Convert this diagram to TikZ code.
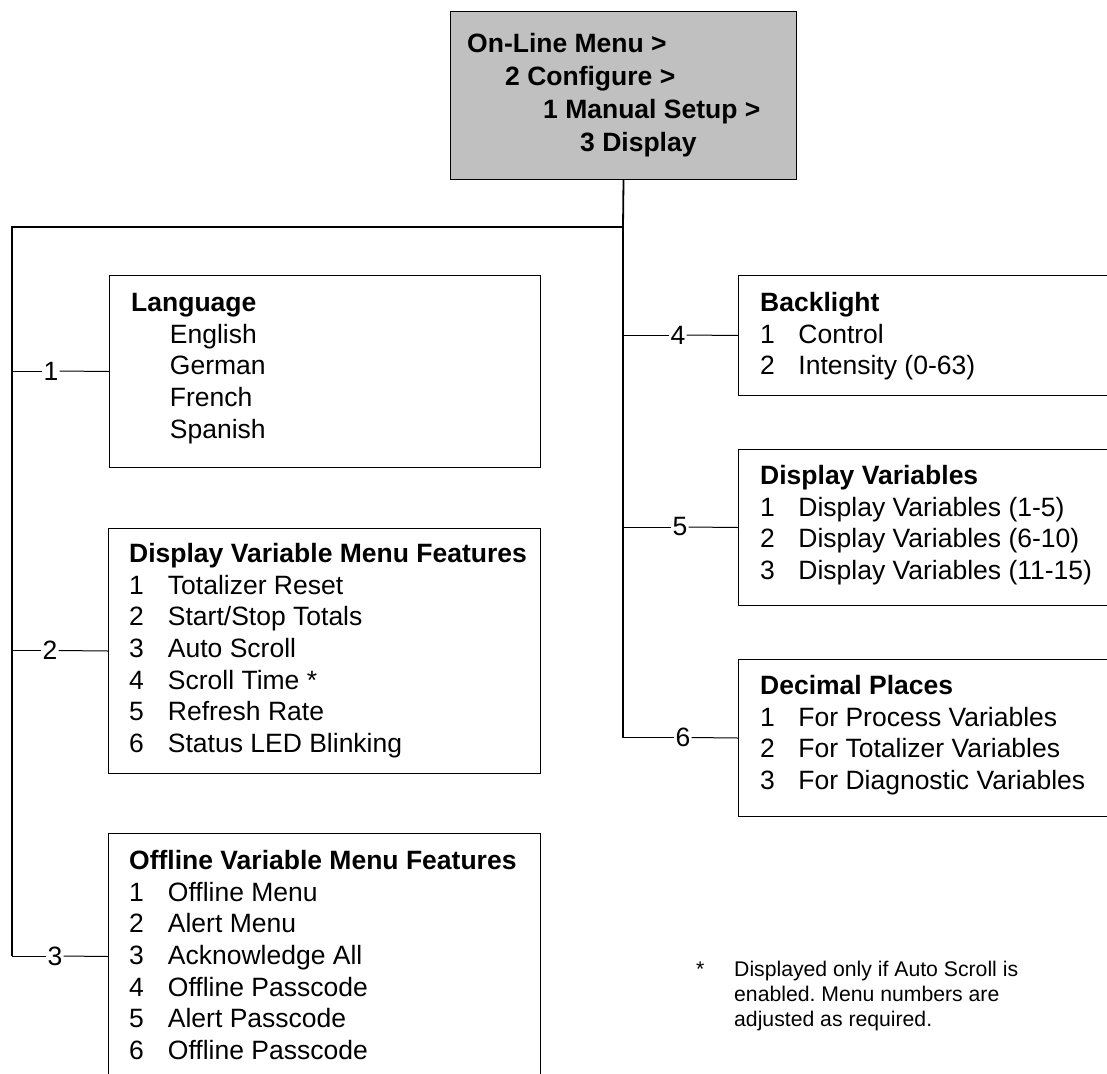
\documentclass[tikz,border=0pt]{standalone}
\usepackage{fontspec}
\setmainfont{Liberation Sans}
\definecolor{boxgray}{HTML}{C0C0C0}
\begin{document}
\begin{tikzpicture}[x=1pt,y=-1pt,
  bus/.style={line width=1.8pt},
  branch/.style={line width=1pt},
  menubox/.style={draw, line width=1pt, rectangle, inner sep=0pt, anchor=north west},
  content/.style={inner sep=0pt, anchor=north west, font=\fontsize{26.5}{31.7}\selectfont},
  numlabel/.style={inner sep=1pt, font=\fontsize{26.5}{31.7}\selectfont}
]
\useasboundingbox (0,0) rectangle (1107,1073);
\clip (0,0) rectangle (1107,1073);

% top box
\node[menubox, fill=boxgray, minimum width=346pt, minimum height=168pt] (top) at (450,11) {};
\node[content, font={\fontsize{26.5}{33}\selectfont\bfseries}] (toptext) at (467,29.5) {\begin{tabular}{@{}l@{}}
On-Line Menu >\\
\hspace*{38pt}2 Configure >\\
\hspace*{76pt}1 Manual Setup >\\
\hspace*{113pt}3 Display
\end{tabular}};

% boxes
\node[menubox, minimum width=431pt, minimum height=192pt] (lang) at (109,275) {};
\node[menubox, minimum width=432pt, minimum height=245pt] (dvmf) at (108,528) {};
\node[menubox, minimum width=432pt, minimum height=246pt] (ovmf) at (108,833) {};
\node[menubox, minimum width=420pt, minimum height=120pt] (back) at (738,275) {};
\node[menubox, minimum width=420pt, minimum height=156pt] (dvar) at (738,449) {};
\node[menubox, minimum width=420pt, minimum height=157pt] (dec) at (738,659) {};

% contents
\node[content] (langtext) at (131,289) {\begin{tabular}{@{}l@{\hspace{24pt}}l@{}}
\multicolumn{2}{@{}l@{}}{\textbf{Language}}\\
\phantom{1} & English\\
\phantom{1} & German\\
\phantom{1} & French\\
\phantom{1} & Spanish
\end{tabular}};

\node[content] (dvmftext) at (129,540) {\begin{tabular}{@{}l@{\hspace{24pt}}l@{}}
\multicolumn{2}{@{}l@{}}{\textbf{Display Variable Menu Features}}\\
1 & Totalizer Reset\\
2 & Start/Stop Totals\\
3 & Auto Scroll\\
4 & Scroll Time *\\
5 & Refresh Rate\\
6 & Status LED Blinking
\end{tabular}};

\node[content] (ovmftext) at (129,847) {\begin{tabular}{@{}l@{\hspace{24pt}}l@{}}
\multicolumn{2}{@{}l@{}}{\textbf{Offline Variable Menu Features}}\\
1 & Offline Menu\\
2 & Alert Menu\\
3 & Acknowledge All\\
4 & Offline Passcode\\
5 & Alert Passcode\\
6 & Offline Passcode
\end{tabular}};

\node[content] (backtext) at (760,289) {\begin{tabular}{@{}l@{\hspace{23.5pt}}l@{}}
\multicolumn{2}{@{}l@{}}{\textbf{Backlight}}\\
1 & Control\\
2 & Intensity (0-63)
\end{tabular}};

\node[content] (dvartext) at (760,462) {\begin{tabular}{@{}l@{\hspace{23.5pt}}l@{}}
\multicolumn{2}{@{}l@{}}{\textbf{Display Variables}}\\
1 & Display Variables (1-5)\\
2 & Display Variables (6-10)\\
3 & Display Variables (11-15)
\end{tabular}};

\node[content] (dectext) at (760,672) {\begin{tabular}{@{}l@{\hspace{23.5pt}}l@{}}
\multicolumn{2}{@{}l@{}}{\textbf{Decimal Places}}\\
1 & For Process Variables\\
2 & For Totalizer Variables\\
3 & For Diagnostic Variables
\end{tabular}};

% note
\node[content, font=\fontsize{21.2}{25}\selectfont\frenchspacing] (note) at (696,959) {\begin{tabular}{@{}l@{}l@{}}
\makebox[38pt][l]{*} & Displayed only if Auto Scroll is\\
 & enabled. Menu numbers are\\
 & adjusted as required.
\end{tabular}};

% bus coordinates
\coordinate (jr) at (623,227);
\coordinate (lb) at (12,227);
\coordinate (p1) at (12,371);
\coordinate (p2) at (12,650.5);
\coordinate (p3) at (12,956);
\coordinate (p4) at (623,335);
\coordinate (p5) at (623,527);
\coordinate (p6) at (623,737.5);

\draw[bus] (top.south) -- (jr);
\draw[bus] (p3) -- (lb) -- (jr) -- (p6);

% branch labels
\node[numlabel] (n1) at (51,371) {1};
\node[numlabel] (n2) at (50,650.5) {2};
\node[numlabel] (n3) at (55,956) {3};
\node[numlabel] (n4) at (678,335) {4};
\node[numlabel] (n5) at (680,527) {5};
\node[numlabel] (n6) at (683,737.5) {6};

\draw[branch] (p1) -- (n1.west); \draw[branch] (n1.east) -- (lang.west);
\draw[branch] (p2) -- (n2.west); \draw[branch] (n2.east) -- (dvmf.west);
\draw[branch] (p3) -- (n3.west); \draw[branch] (n3.east) -- (ovmf.west);
\draw[branch] (p4) -- (n4.west); \draw[branch] (n4.east) -- (back.west);
\draw[branch] (p5) -- (n5.west); \draw[branch] (n5.east) -- (dvar.west);
\draw[branch] (p6) -- (n6.west); \draw[branch] (n6.east) -- (dec.west);
\end{tikzpicture}
\end{document}
